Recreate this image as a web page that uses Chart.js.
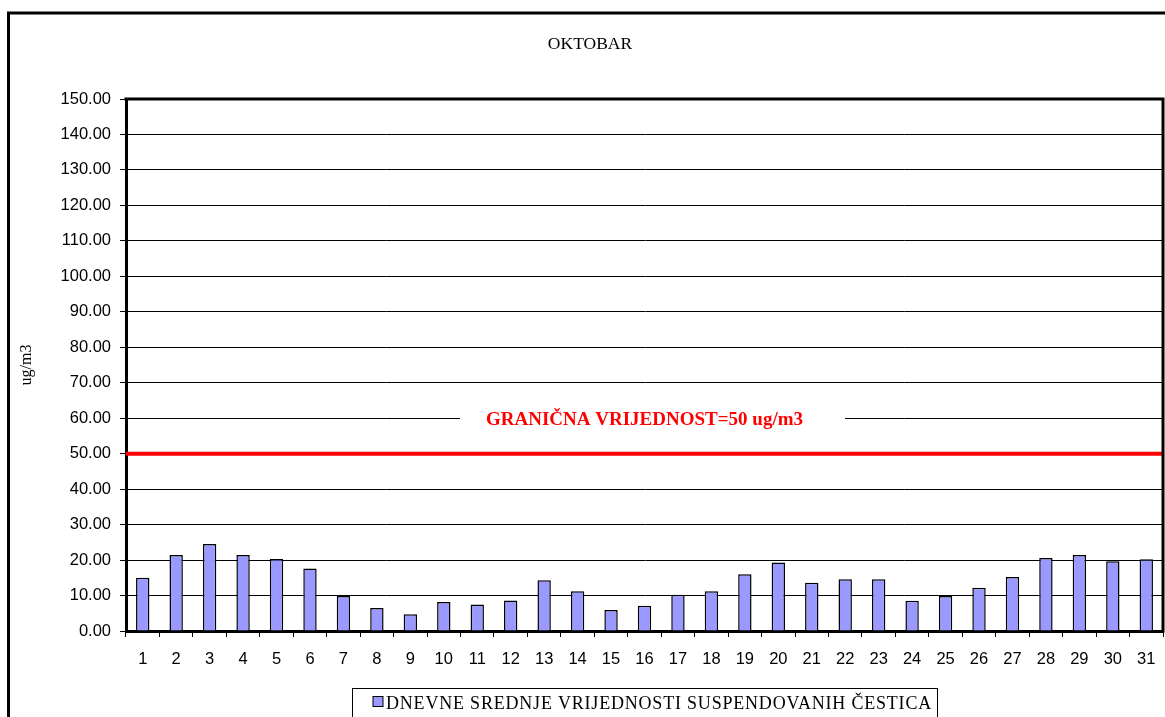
<!DOCTYPE html>
<html>
<head>
<meta charset="utf-8">
<script src="https://cdn.jsdelivr.net/npm/chart.js@4.4.1/dist/chart.umd.min.js"></script>
<style>
  html, body { margin: 0; padding: 0; background: #fff; }
  #wrap { width: 1165px; height: 717px; }
</style>
</head>
<body>
<div id="wrap"><canvas id="c" width="1165" height="717"></canvas></div>
<script>
const CHART_TITLE = 'OKTOBAR';
const Y_TITLE = 'ug/m3';
const SERIES_LABEL = 'DNEVNE SREDNJE VRIJEDNOSTI SUSPENDOVANIH ČESTICA';
const LIMIT_LABEL = 'GRANIČNA VRIJEDNOST=50 ug/m3';
const LIMIT_VALUE = 50;
const Y_MIN = 0;
const Y_MAX = 150;
const Y_STEP = 10;
const days = ['1','2','3','4','5','6','7','8','9','10','11','12','13','14','15','16',
              '17','18','19','20','21','22','23','24','25','26','27','28','29','30','31'];
const dailyMeans = [15.0, 21.4, 24.5, 21.4, 20.3, 17.6, 9.9, 6.5, 4.7, 8.2, 7.5, 8.6,
                    14.3, 11.2, 5.9, 7.1, 10.2, 11.2, 16.0, 19.3, 13.6, 14.6, 14.6, 8.5,
                    9.9, 12.2, 15.2, 20.6, 21.4, 19.7, 20.2];

const BAR_FILL = '#9999FF';
const SERIF = '"Liberation Serif", "Times New Roman", serif';
const SANS = '"Liberation Sans", Arial, sans-serif';

const deco = {
  id: 'deco',
  beforeDraw(chart) {
    const ctx = chart.ctx;
    ctx.save();
    ctx.fillStyle = '#fff';
    ctx.fillRect(0, 0, chart.width, chart.height);
    ctx.restore();
  },
  beforeDatasetsDraw(chart) {
    const ctx = chart.ctx;
    const a = chart.chartArea;
    const y = chart.scales.y;
    ctx.save();
    ctx.font = 'bold 19px ' + SERIF;
    const tw = ctx.measureText(LIMIT_LABEL).width;
    const cx = (a.left + a.right) / 2;
    const ty = y.getPixelForValue(60) + 2;
    ctx.fillStyle = '#fff';
    ctx.fillRect(cx - tw / 2 - 26, ty - 8, tw + 68, 16);
    ctx.fillStyle = '#FF0000';
    ctx.textAlign = 'center';
    ctx.textBaseline = 'middle';
    ctx.fillText(LIMIT_LABEL, cx, ty);
    const ly = y.getPixelForValue(LIMIT_VALUE);
    ctx.strokeStyle = '#FF0000';
    ctx.lineWidth = 4;
    ctx.beginPath();
    ctx.moveTo(a.left, ly);
    ctx.lineTo(a.right, ly);
    ctx.stroke();
    ctx.restore();
  },
  afterDatasetsDraw(chart) {
    const ctx = chart.ctx;
    const a = chart.chartArea;
    ctx.save();
    ctx.strokeStyle = '#000';
    ctx.lineWidth = 3;
    ctx.beginPath();
    ctx.moveTo(a.left - 1.5, a.top);
    ctx.lineTo(a.right, a.top);
    ctx.lineTo(a.right, a.bottom + 1.5);
    ctx.stroke();
    ctx.strokeRect(8.5, 13, 1175, 720);
    // legend
    ctx.font = '18px ' + SERIF;
    const baseW = ctx.measureText(SERIES_LABEL).width;
    const spacing = Math.max(0, (546 - baseW) / SERIES_LABEL.length);
    if ('letterSpacing' in ctx) ctx.letterSpacing = spacing + 'px';
    const tw = ('letterSpacing' in ctx) ? baseW + spacing * SERIES_LABEL.length : baseW;
    const bw = 34 + tw + 5;
    const bx = Math.round((a.left + a.right) / 2 - bw / 2) + 0.5;
    const by = a.bottom + 57.5;
    ctx.lineWidth = 1;
    ctx.strokeStyle = '#000';
    ctx.strokeRect(bx, by, bw, 45);
    const ds = chart.data.datasets[0];
    ctx.fillStyle = ds.backgroundColor;
    ctx.fillRect(bx + 20.5, by + 8, 10, 10);
    ctx.strokeRect(bx + 20.5, by + 8, 10, 10);
    ctx.fillStyle = '#000';
    ctx.textAlign = 'left';
    ctx.textBaseline = 'alphabetic';
    ctx.fillText(ds.label, bx + 33.5, by + 20.5);
    ctx.restore();
  }
};

new Chart(document.getElementById('c'), {
  type: 'bar',
  data: {
    labels: days,
    datasets: [{
      label: SERIES_LABEL,
      data: dailyMeans,
      backgroundColor: BAR_FILL,
      borderColor: '#000',
      borderWidth: 1.5,
      barPercentage: 0.4,
      categoryPercentage: 1.0
    }]
  },
  options: {
    responsive: false,
    animation: false,
    devicePixelRatio: 1,
    layout: { padding: { left: 17, right: 2, top: 0, bottom: 0 } },
    plugins: {
      legend: { display: false },
      tooltip: { enabled: false },
      title: {
        display: true,
        text: CHART_TITLE,
        color: '#000',
        font: { family: SERIF, size: 17.5, weight: 'normal', lineHeight: 1.2 },
        padding: { top: 34, bottom: 44 }
      }
    },
    scales: {
      x: {
        grid: { offset: true, drawOnChartArea: false, drawTicks: true, tickLength: 6, color: '#000', lineWidth: 1 },
        border: { display: true, color: '#000', width: 3 },
        ticks: { color: '#000', font: { family: SANS, size: 16.5, lineHeight: 2.75 }, padding: 0, maxRotation: 0, autoSkip: false },
        afterFit(scale) { scale.height = 86; }
      },
      y: {
        min: Y_MIN,
        max: Y_MAX,
        grid: { color: '#000', lineWidth: 1, drawTicks: true, tickLength: 6 },
        border: { display: true, color: '#000', width: 3 },
        ticks: {
          stepSize: Y_STEP,
          color: '#000',
          font: { family: SANS, size: 16.5 },
          padding: 9,
          callback: (v) => Number(v).toFixed(2)
        },
        title: {
          display: true,
          text: Y_TITLE,
          color: '#000',
          font: { family: SERIF, size: 16, lineHeight: 1.2 },
          padding: { top: 0, bottom: 0 }
        },
        afterFit(scale) { scale.width = 109; }
      }
    }
  },
  plugins: [deco]
});
</script>
</body>
</html>
